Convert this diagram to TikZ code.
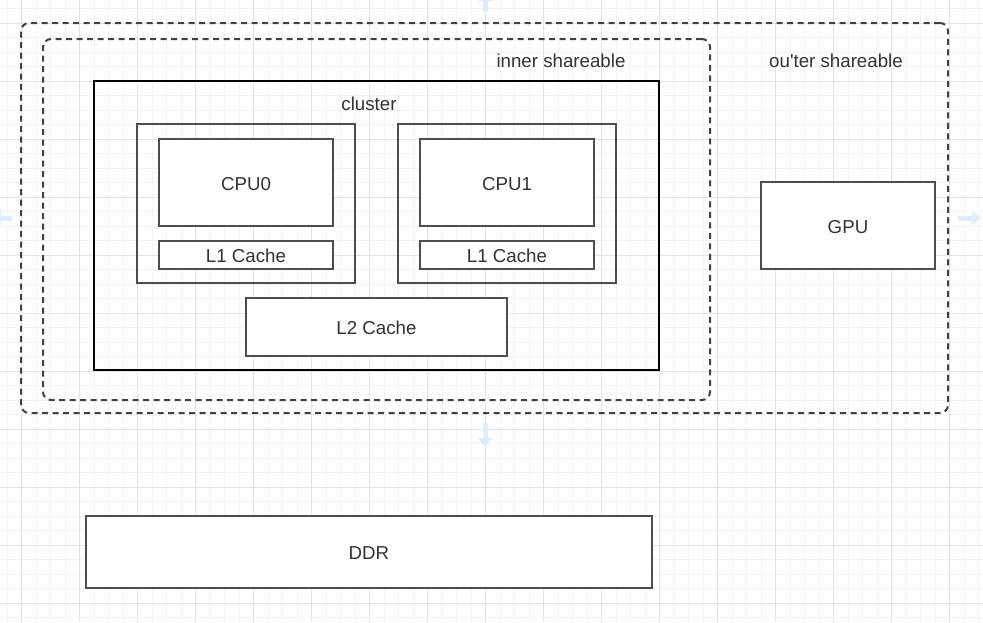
\documentclass[tikz,border=0pt]{standalone}
\usepackage{fontspec}
\newfontfamily\labelfont{Liberation Sans}
\usetikzlibrary{arrows.meta}

\definecolor{boxline}{HTML}{4D4D4D}
\definecolor{dashline}{HTML}{404040}
\definecolor{txt}{HTML}{333333}
\definecolor{gridmin}{HTML}{F3F3F3}
\definecolor{gridmaj}{HTML}{E3E3E3}
\definecolor{hint}{HTML}{DCEEFB}

\tikzstyle{label} = [text=txt,font=\labelfont\fontsize{18.7}{21}\selectfont,inner sep=0pt,text height=15.2pt,text depth=0pt]
\tikzstyle{unit} = [label,draw=boxline,line width=2pt,fill=white]
\tikzstyle{holder} = [draw=boxline,line width=2pt,inner sep=0pt]
\tikzstyle{clusterbox} = [draw=black,line width=2pt,inner sep=0pt]
\tikzstyle{share} = [draw=dashline,line width=2pt,dash pattern=on 6pt off 4.5pt,rounded corners=8pt,inner sep=0pt]
\tikzstyle{hintarrow} = [draw=hint,line width=5pt,-{Triangle[width=14pt,length=9pt]}]

\begin{document}
\begin{tikzpicture}[x=1pt,y=-1pt]
      \useasboundingbox (0,0) rectangle (983,622);
      \fill[white] (0,0) rectangle (983,622);
      %grid
      \begin{scope}
        \clip (0,0) rectangle (983,622);
        \foreach \k in {-1,...,67}
        {
          \draw[gridmin,line width=1pt] ({21.7+14.5*\k},0) -- ({21.7+14.5*\k},622);
          \draw[gridmin,line width=1pt] (0,{23.3+14.5*\k}) -- (983,{23.3+14.5*\k});
        };
        \foreach \k in {-1,...,16}
        {
          \draw[gridmaj,line width=1pt] ({21.7+58*\k},0) -- ({21.7+58*\k},622);
          \draw[gridmaj,line width=1pt] (0,{23.3+58*\k}) -- (983,{23.3+58*\k});
        };
      \end{scope}

      %shareable domains
      \node[share, minimum width=927pt, minimum height=390pt] (outer) at (484.5,218) {};
      \node[share, minimum width=667pt, minimum height=361pt] (inner) at (376.5,219.5) {};
      \node[label] (innerlabel) at (561,60) {inner shareable};
      \node[label] (outerlabel) at (836,60) {ou'ter shareable};

      %cluster
      \node[clusterbox, minimum width=565pt, minimum height=289pt] (cluster) at (376.5,225.5) {};
      \node[label] (clusterlabel) at (369,103) {cluster};

      %cores
      \foreach \name/\x/\title in {cpu0/246/CPU0, cpu1/507/CPU1}
      {
        \node[holder, minimum width=218pt, minimum height=159pt] (\name holder) at (\x,203.5) {};
        \node[unit, minimum width=174pt, minimum height=87pt] (\name) at (\x,182.5) {\title};
        \node[unit, minimum width=174pt, minimum height=28pt] (\name l1) at (\x,255) {L1 Cache};
      };
      \node[unit, minimum width=261pt, minimum height=58pt] (l2) at (376.5,327) {L2 Cache};

      %others
      \node[unit, minimum width=174pt, minimum height=87pt] (gpu) at (848,225.5) {GPU};
      \node[unit, minimum width=566pt, minimum height=72pt] (ddr) at (369,552) {DDR};

      %hover hints
      \coordinate (hinttop) at (485,-8);
      \coordinate (hintbottom) at (485,447);
      \coordinate (hintright) at (981,218);
      \coordinate (hintleft) at (-8,218);
      \path[hintarrow] (485,12) -- (hinttop);
      \path[hintarrow] (485,423) -- (hintbottom);
      \path[hintarrow] (958,218) -- (hintright);
      \path[hintarrow] (12,218) -- (hintleft);
\end{tikzpicture}
\end{document}
